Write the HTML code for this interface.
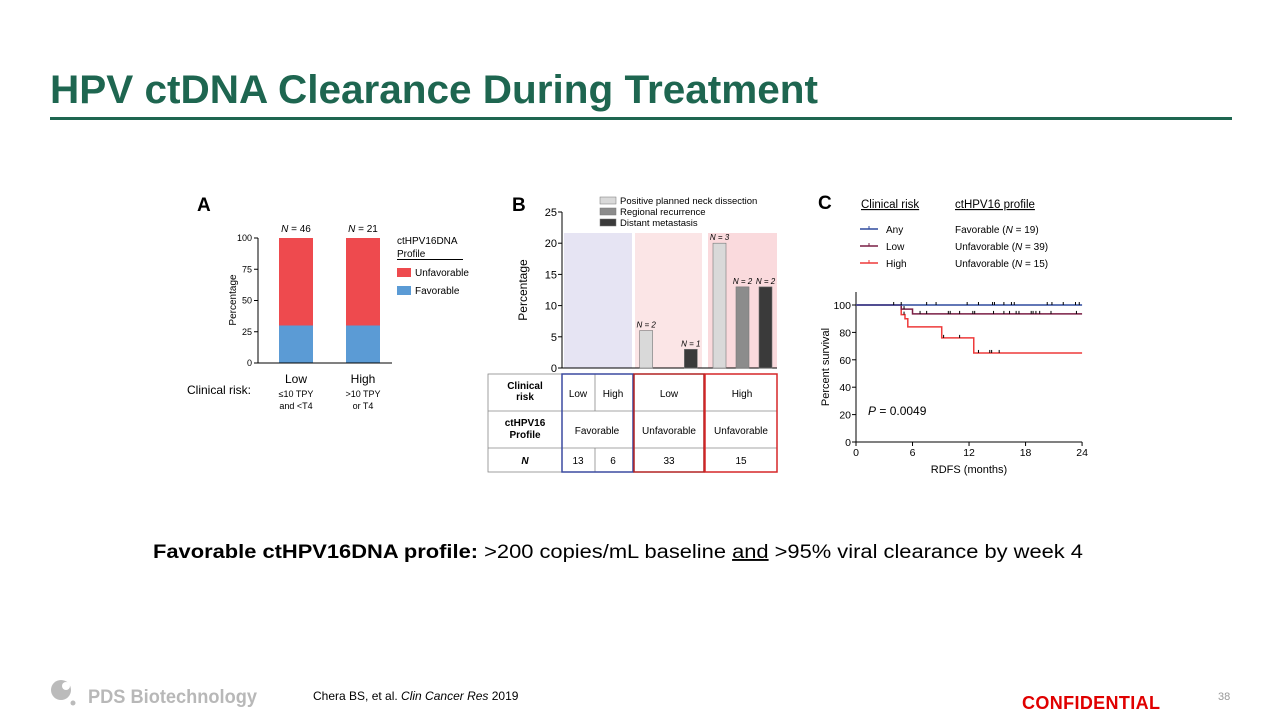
<!DOCTYPE html>
<html><head><meta charset="utf-8"><style>
body{margin:0;background:#fff;}
svg{display:block;font-family:"Liberation Sans",Arial,sans-serif;}
</style></head><body>
<svg id="s" width="1280" height="720" viewBox="0 0 1280 720">
<text x="50" y="103" font-size="40" font-weight="bold" fill="#1e6650" textLength="768" lengthAdjust="spacingAndGlyphs">HPV ctDNA Clearance During Treatment</text>
<rect x="50" y="117" width="1182" height="3" fill="#1e6650"/>
<g id="A"></g>
<g id="B"></g>
<g id="C"></g>
<text x="153" y="558" font-size="19" fill="#000" textLength="930" lengthAdjust="spacingAndGlyphs"><tspan font-weight="bold">Favorable ctHPV16DNA profile:</tspan> &gt;200 copies/mL baseline <tspan text-decoration="underline">and</tspan> &gt;95% viral clearance by week 4</text>
<g>
<circle cx="61" cy="690" r="10" fill="#bbb"/><circle cx="66" cy="686" r="4" fill="#fff"/><circle cx="73" cy="703" r="2.5" fill="#bbb"/>
<text x="88" y="703" font-size="19" font-weight="bold" fill="#b8b8b8" textLength="169" lengthAdjust="spacingAndGlyphs">PDS Biotechnology</text></g>
<text x="313" y="700" font-size="12" fill="#000">Chera BS, et al. <tspan font-style="italic">Clin Cancer Res</tspan> 2019</text>
<text x="1022" y="709" font-size="18" font-weight="bold" fill="#e00000" textLength="138">CONFIDENTIAL</text>
<text x="1218" y="700" font-size="11" fill="#999">38</text>
</svg>
<script>
const NS="http://www.w3.org/2000/svg";
function mk(p,tag,at,txt){const e=document.createElementNS(NS,tag);for(const k in at)e.setAttribute(k,at[k]);if(txt!=null)e.textContent=txt;p.appendChild(e);return e;}
// ---- Panel A data
const aCats=["Low","High"];
const aFav=[30,30];
const aN=["46","21"];
const aTicks=[0,25,50,75,100];
// ---- Panel B data
const bGroups=["Favorable","Unfavorable Low","Unfavorable High"];
const bPND=[0,6,20];
const bRR=[0,0,13];
const bDM=[0,3,13];
const bLabels=[["","",""],["N = 2","","N = 1"],["N = 3","N = 2","N = 2"]];
const bTicks=[0,5,10,15,20,25];
// ---- Panel C data
const cTicksX=[0,6,12,18,24];
const cTicksY=[0,20,40,60,80,100];
const cAnyT=[0,24];const cAnyS=[100,100];
const cLowT=[0,4.8,6,24];const cLowS=[100,97,93.5,93.5];
const cHighT=[0,4.8,5.2,5.5,9.1,12.5,24];const cHighS=[100,93,90,84,76,65,65];
const cAnyCens=[4,4.8,7.5,8.5,11.8,13,14.5,14.7,15.7,16.5,16.8,20.3,20.8,22,23.3,23.7];
const cLowCens=[5.1,6.8,7.5,9.8,10,11,12.4,12.6,14.6,15.7,16.3,17,17.3,18.6,18.8,19.1,19.5,20.7,23.4];
const cHighCens=[5.1,9.3,11,13,14.2,14.4,15.2];

// ===== Panel A
const A=document.getElementById('A');
const ay=v=>363-v*1.25;
const abx=[279,346],abw=34;
mk(A,'text',{x:197,y:211,'font-size':19,'font-weight':'bold'},'A');
mk(A,'line',{x1:258,y1:ay(0),x2:258,y2:ay(100),stroke:'#000'});
aTicks.forEach(t=>{mk(A,'line',{x1:254,x2:258,y1:ay(t),y2:ay(t),stroke:'#000'});mk(A,'text',{x:252,y:ay(t)+3,'font-size':9,'text-anchor':'end'},t);});
mk(A,'text',{x:236,y:300,'font-size':10,'text-anchor':'middle',transform:'rotate(-90 236 300)'},'Percentage');
aCats.forEach((c,i)=>{
 const f=mk(A,'rect',{x:abx[i],y:ay(aFav[i]),width:abw,height:ay(0)-ay(aFav[i]),fill:'#5b9bd5'});
 
 const u=mk(A,'rect',{x:abx[i],y:ay(100),width:abw,height:ay(aFav[i])-ay(100),fill:'#ee4a4e'});
 
 const cx=abx[i]+abw/2;
 mk(A,'text',{x:cx,y:232,'font-size':10,'text-anchor':'middle'}).innerHTML='<tspan font-style="italic">N</tspan> = '+aN[i];
 mk(A,'text',{x:cx,y:383,'font-size':12,'text-anchor':'middle'},c);
});
mk(A,'line',{x1:258,x2:392,y1:ay(0),y2:ay(0),stroke:'#000'});
mk(A,'text',{x:296,y:397,'font-size':9,'text-anchor':'middle'},'≤10 TPY');
mk(A,'text',{x:296,y:409,'font-size':9,'text-anchor':'middle'},'and <T4');
mk(A,'text',{x:363,y:397,'font-size':9,'text-anchor':'middle'},'>10 TPY');
mk(A,'text',{x:363,y:409,'font-size':9,'text-anchor':'middle'},'or T4');
mk(A,'text',{x:187,y:394,'font-size':12},'Clinical risk:');
mk(A,'text',{x:397,y:244,'font-size':10},'ctHPV16DNA');
mk(A,'text',{x:397,y:257,'font-size':10},'Profile');
mk(A,'line',{x1:397,x2:463,y1:259.5,y2:259.5,stroke:'#000'});
const la=mk(A,'rect',{x:397,y:268,width:14,height:9,fill:'#ee4a4e'});
mk(A,'text',{x:415,y:276,'font-size':10},'Unfavorable');
const lb=mk(A,'rect',{x:397,y:286,width:14,height:9,fill:'#5b9bd5'});
mk(A,'text',{x:415,y:294,'font-size':10},'Favorable');

// ===== Panel B
const B=document.getElementById('B');
const by=v=>368-v*6.24;
mk(B,'text',{x:512,y:211,'font-size':19,'font-weight':'bold'},'B');
const regs=[[564,632,'#e6e4f3'],[635,702,'#fbe5e6'],[708,777,'#fadadd']];
regs.forEach(r=>mk(B,'rect',{x:r[0],y:233,width:r[1]-r[0],height:by(0)-233,fill:r[2]}));
mk(B,'line',{x1:562,y1:by(0),x2:562,y2:by(25),stroke:'#000'});
mk(B,'line',{x1:562,y1:by(0),x2:777,y2:by(0),stroke:'#000'});
bTicks.forEach(t=>{mk(B,'line',{x1:558,x2:562,y1:by(t),y2:by(t),stroke:'#000'});mk(B,'text',{x:557,y:by(t)+4,'font-size':11,'text-anchor':'end'},t);});
mk(B,'text',{x:527,y:290,'font-size':12,'text-anchor':'middle',transform:'rotate(-90 527 290)'},'Percentage');
const series=[bPND,bRR,bDM],cols=['#d9d9d9','#8c8c8c','#3a3a3a'],snames=['neck-dissection','regional-recurrence','distant-metastasis'];
bGroups.forEach((g,gi)=>{
 const x0=regs[gi][0],w=regs[gi][1]-regs[gi][0],bw=13,step=w/3;
 series.forEach((s,si)=>{
  const x=x0+step*si+(step-bw)/2;
  if(s[gi]>0){
   const r=mk(B,'rect',{x:x,y:by(s[gi]),width:bw,height:by(0)-by(s[gi]),fill:cols[si],stroke:'#777','stroke-width':0.6});
   
  }
  const lab=bLabels[gi][si];
  if(lab){mk(B,'text',{x:x+bw/2,y:by(s[gi])-3,'font-size':8,'text-anchor':'middle','font-style':'italic'},lab);}
 });
});
const legB=['Positive planned neck dissection','Regional recurrence','Distant metastasis'];
legB.forEach((t,i)=>{const r=mk(B,'rect',{x:600,y:197+i*11,width:16,height:7,fill:cols[i],stroke:'#777','stroke-width':0.5});mk(B,'text',{x:620,y:204+i*11,'font-size':9.5},t);});
// table
const T=mk(B,'g',{});
mk(T,'rect',{x:488,y:374,width:289,height:98,fill:'#fff',stroke:'#888','stroke-width':0.8});
[411,448].forEach(y=>mk(T,'line',{x1:488,x2:777,y1:y,y2:y,stroke:'#888','stroke-width':0.8}));
mk(T,'line',{x1:595,x2:595,y1:374,y2:411,stroke:'#888','stroke-width':0.8});
mk(T,'line',{x1:595,x2:595,y1:448,y2:472,stroke:'#888','stroke-width':0.8});
mk(T,'rect',{x:562,y:374,width:71,height:98,fill:'none',stroke:'#3b4aa0','stroke-width':1.5});
mk(T,'rect',{x:634,y:374,width:70,height:98,fill:'none',stroke:'#b22222','stroke-width':1.5});
mk(T,'rect',{x:705,y:374,width:72,height:98,fill:'none',stroke:'#d62728','stroke-width':1.5});
const tt=(x,y,s,b,it)=>mk(T,'text',{x:x,y:y,'font-size':10,'text-anchor':'middle','font-weight':b?'bold':'normal','font-style':it?'italic':'normal'},s);
tt(525,389,'Clinical',1);tt(525,400,'risk',1);tt(525,426,'ctHPV16',1);tt(525,438,'Profile',1);tt(525,464,'N',1,1);
tt(578,397,'Low');tt(613,397,'High');tt(669,397,'Low');tt(742,397,'High');
tt(597,434,'Favorable');tt(669,434,'Unfavorable');tt(741,434,'Unfavorable');
tt(578,464,'13');tt(613,464,'6');tt(669,464,'33');tt(741,464,'15');

// ===== Panel C
const C=document.getElementById('C');
const cx=t=>856+t*9.42, cy=v=>442-v*1.37;
mk(C,'text',{x:818,y:209,'font-size':19,'font-weight':'bold'},'C');
mk(C,'text',{x:861,y:208,'font-size':11.5,'text-decoration':'underline'},'Clinical risk');
mk(C,'text',{x:955,y:208,'font-size':11.5,'text-decoration':'underline'},'ctHPV16 profile');
const legC=[['Any','Favorable','19','#2f4a9e'],['Low','Unfavorable','39','#7a1f45'],['High','Unfavorable','15','#ee3a3a']];
legC.forEach((l,i)=>{const y=229+i*17;const ln=mk(C,'line',{x1:860,x2:878,y1:y,y2:y,stroke:l[3],'stroke-width':1.5});mk(C,'line',{x1:869,x2:869,y1:y-3,y2:y,stroke:l[3]});
 mk(C,'text',{x:886,y:y+4,'font-size':10},l[0]);mk(C,'text',{x:955,y:y+4,'font-size':10}).innerHTML=l[1]+' (<tspan font-style="italic">N</tspan> = '+l[2]+')';});
mk(C,'line',{x1:856,y1:cy(0),x2:856,y2:292,stroke:'#000'});
mk(C,'line',{x1:856,y1:cy(0),x2:cx(24),y2:cy(0),stroke:'#000'});
cTicksY.forEach(t=>{mk(C,'line',{x1:852,x2:856,y1:cy(t),y2:cy(t),stroke:'#000'});mk(C,'text',{x:851,y:cy(t)+4,'font-size':10.5,'text-anchor':'end'},t);});
cTicksX.forEach(t=>{mk(C,'line',{x1:cx(t),x2:cx(t),y1:cy(0),y2:cy(0)+4,stroke:'#000'});mk(C,'text',{x:cx(t),y:cy(0)+14,'font-size':10.5,'text-anchor':'middle'},t);});
mk(C,'text',{x:829,y:367,'font-size':11,'text-anchor':'middle',transform:'rotate(-90 829 367)'},'Percent survival');
mk(C,'text',{x:969,y:473,'font-size':11,'text-anchor':'middle'},'RDFS (months)');
mk(C,'text',{x:868,y:415,'font-size':12}).innerHTML='<tspan font-style="italic">P</tspan> = 0.0049';
function step(T,S){let d='M'+cx(T[0])+' '+cy(S[0]);for(let i=1;i<T.length;i++){d+=' H'+cx(T[i])+' V'+cy(S[i]);}return d;}
function sAt(T,S,t){let v=S[0];for(let i=0;i<T.length;i++)if(T[i]<=t)v=S[i];return v;}
[[cHighT,cHighS,cHighCens,'#ee3a3a','high'],[cLowT,cLowS,cLowCens,'#7a1f45','low'],[cAnyT,cAnyS,cAnyCens,'#2f4a9e','any']].forEach(k=>{
 const p=mk(C,'path',{d:step(k[0],k[1]),fill:'none',stroke:k[3],'stroke-width':1.5});
 
 k[2].forEach(t=>mk(C,'line',{x1:cx(t),x2:cx(t),y1:cy(sAt(k[0],k[1],t))-3,y2:cy(sAt(k[0],k[1],t)),stroke:'#000','stroke-width':1}));
});
</script>
</body></html>
